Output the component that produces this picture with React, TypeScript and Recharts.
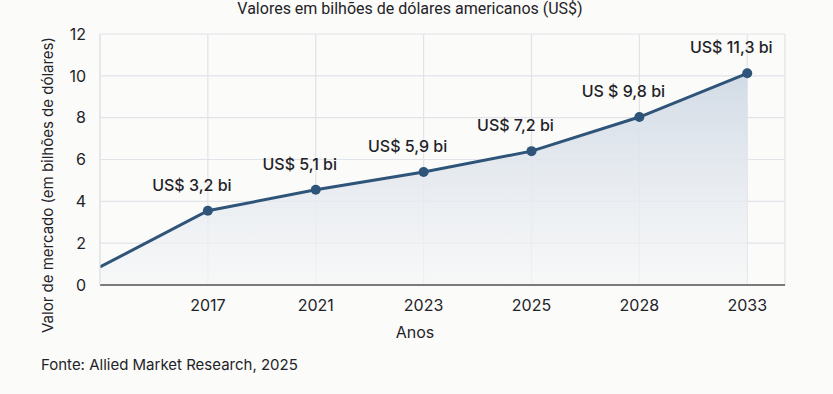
import { AreaChart, Area, XAxis, YAxis, CartesianGrid, LabelList } from 'recharts'

// positions on the x axis: 0 = start of the series (no tick), then one per year
const years = ['', '2017', '2021', '2023', '2025', '2028', '2033']
const values = [0.86, 3.55, 4.55, 5.4, 6.4, 8.03, 10.12]
const valueLabels = ['', 'US$ 3,2 bi', 'US$ 5,1 bi', 'US$ 5,9 bi', 'US$ 7,2 bi', 'US $ 9,8 bi', 'US$ 11,3 bi']
const yTicks = [0, 2, 4, 6, 8, 10, 12]

const data = values.map((v, i) => ({ idx: i, value: v, label: valueLabels[i] }))

const font = 'Inter, "Noto Sans", sans-serif'
const ink = '#1f2328'
const lineColor = '#2f5479'

const renderValueLabel = (props: any) => {
  const { x, y, index } = props
  const text = valueLabels[index]
  if (!text) return null
  return (
    <text
      x={x - 16}
      y={y - 26}
      textAnchor="middle"
      dominantBaseline="central"
      fontSize={16}
      fontWeight={500}
      fontFamily={font}
      fill={ink}
    >
      {text}
    </text>
  )
}

const renderDot = (props: any) => {
  const { cx, cy, index } = props
  if (index === 0) return <g key="dot-0" />
  return <circle key={`dot-${index}`} cx={cx} cy={cy} r={5} fill={lineColor} />
}

export default function App() {
  return (
    <div style={{ position: 'relative', width: 833, height: 394, background: '#fbfbf9', fontFamily: font, color: ink, overflow: 'hidden' }}>
      <style>{'body{margin:0}'}</style>
      <div style={{ position: 'absolute', top: 0, left: 0, width: 820, textAlign: 'center', fontSize: 16, lineHeight: '18px', fontFamily: 'Roboto, sans-serif' }}>
        Valores em bilhões de dólares americanos (US$)
      </div>
      <AreaChart width={833} height={394} data={data} margin={{ top: 34, right: 48, bottom: 79, left: 40 }}>
        <defs>
          <linearGradient id="areaFill" x1="0" y1="0" x2="0" y2="1">
            <stop offset="0%" stopColor="#d2dbe6" stopOpacity={1} />
            <stop offset="100%" stopColor="#f5f6f7" stopOpacity={0.7} />
          </linearGradient>
        </defs>
        <CartesianGrid stroke="#e0e3e8" strokeWidth={1.2} />
        <XAxis
          dataKey="idx"
          type="number"
          domain={[0, 6.35]}
          ticks={[1, 2, 3, 4, 5, 6]}
          tickFormatter={(v: number) => years[v]}
          allowDataOverflow
          height={30}
          axisLine={{ stroke: '#7a7a7a', strokeWidth: 2 }}
          tickLine={false}
          tickMargin={9}
          tick={{ fontSize: 16, fill: ink, fontFamily: font }}
        />
        <YAxis
          width={60}
          domain={[0, 12]}
          ticks={yTicks}
          axisLine={{ stroke: '#e0e3e8' }}
          tickLine={false}
          tickMargin={8}
          tick={{ fontSize: 16, fill: ink, fontFamily: font }}
        />
        <Area
          type="linear"
          dataKey="value"
          stroke={lineColor}
          strokeWidth={3}
          fill="url(#areaFill)"
          fillOpacity={1}
          dot={renderDot}
          activeDot={false}
          isAnimationActive={false}
        >
          <LabelList dataKey="label" content={renderValueLabel} />
        </Area>
      </AreaChart>
      <div style={{ position: 'absolute', left: 47, top: 185, transform: 'translate(-50%, -50%) rotate(-90deg)', whiteSpace: 'nowrap', fontSize: 15 }}>
        Valor de mercado (em bilhões de dólares)
      </div>
      <div style={{ position: 'absolute', left: 415, top: 332, transform: 'translate(-50%, -50%)', fontSize: 16 }}>
        Anos
      </div>
      <div style={{ position: 'absolute', left: 41, top: 364, transform: 'translateY(-50%)', fontSize: 15 }}>
        Fonte: Allied Market Research, 2025
      </div>
    </div>
  )
}
